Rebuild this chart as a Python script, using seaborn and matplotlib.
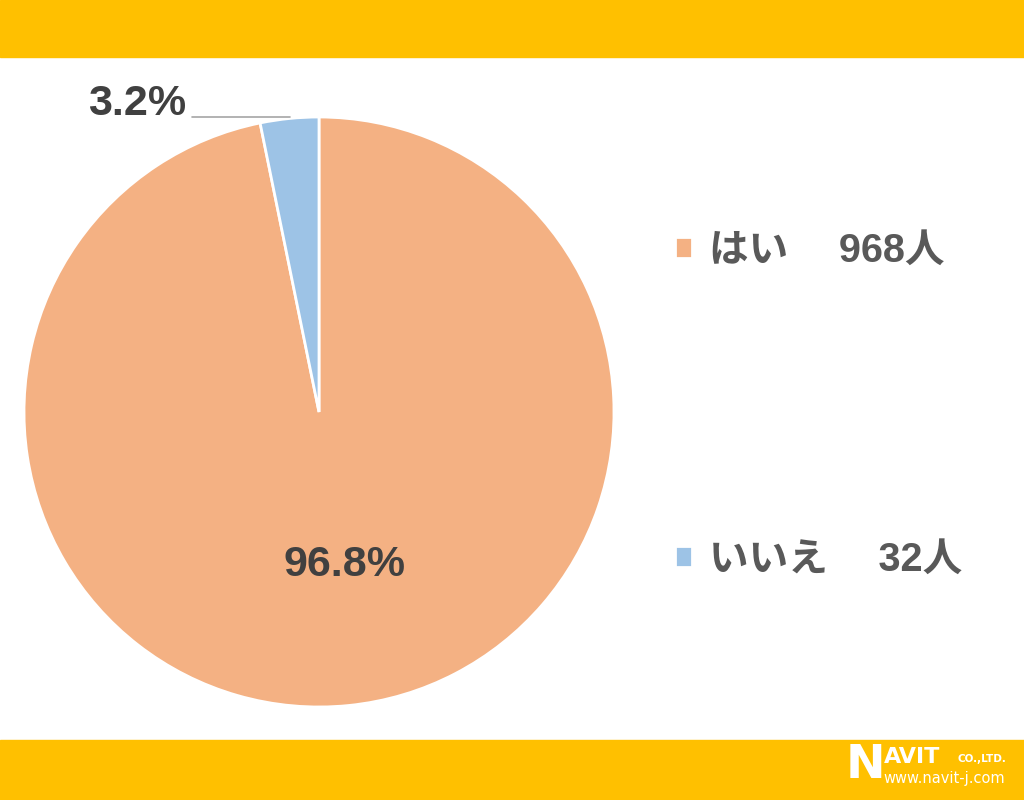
import numpy as np
import seaborn as sns
import matplotlib.pyplot as plt
from matplotlib.patches import Rectangle

# data
categories = ["はい", "いいえ"]
counts = [968, 32]
colors = ["#F4B183", "#9DC3E6"]

sns.set_theme(style="white")
plt.rcParams["font.family"] = ["Liberation Sans", "Noto Sans CJK JP", "DejaVu Sans"]

fig = plt.figure(figsize=(10.24, 8), dpi=100)
fig.patch.set_facecolor("white")

# yellow header / footer bars
fig.patches.append(Rectangle((0, 1 - 57 / 800), 1, 57 / 800, transform=fig.transFigure,
                             color="#FFC000", zorder=0))
fig.patches.append(Rectangle((0, 0), 1, 60 / 800, transform=fig.transFigure,
                             color="#FFC000", zorder=0))

# pie axes: center (319, 412) px, radius ~295 px
r_px = 295
ax = fig.add_axes([(319 - r_px) / 1024, 1 - (412 + r_px) / 800,
                   2 * r_px / 1024, 2 * r_px / 800])
wedges, texts, autotexts = ax.pie(
    counts,
    colors=colors,
    startangle=90,
    counterclock=False,
    autopct="%.1f%%",
    pctdistance=0.52,
    wedgeprops=dict(edgecolor="white", linewidth=2),
    textprops=dict(fontsize=31, fontweight="bold", color="#404040"),
)
ax.set_xlim(-1, 1)
ax.set_ylim(-1, 1)
ax.set_aspect("equal")
for w in wedges:
    w.set_clip_on(False)

# nudge big label a little right
x0, y0 = autotexts[0].get_position()
autotexts[0].set_position((x0 + 0.035, y0))

# move small slice label outside with leader line
autotexts[1].set_position((-0.615, 1.045))
autotexts[1].set_ha("center")
autotexts[1].set_va("center")
ax.plot([-0.43, -0.1], [1.0, 1.0], color="#A6A6A6", lw=1.2, clip_on=False)

# legend
labels = [f"{c}\u3000 {n}人" for c, n in zip(categories, counts)]
leg = fig.legend(
    wedges, labels,
    loc="center left",
    bbox_to_anchor=(675 / 1024, 1 - 405 / 800),
    frameon=False,
    fontsize=28.5,
    borderpad=0,
    borderaxespad=0,
    handlelength=0.42,
    handleheight=0.42,
    handletextpad=0.45,
    labelspacing=6.85,
)
for t in leg.get_texts():
    t.set_color("#595959")
    t.set_fontweight("bold")

# logo
fig.text(846 / 1024, 1 - 766 / 800, "N", color="white", fontsize=34, fontweight="bold",
         va="center", ha="left", family=["DejaVu Sans"])
fig.text(884 / 1024, 1 - 757 / 800, "AVIT", color="white", fontsize=16, fontweight="bold",
         va="center", ha="left", family=["DejaVu Sans"])
fig.text(958 / 1024, 1 - 759 / 800, "CO.,LTD.", color="white", fontsize=7.5, fontweight="bold",
         va="center", ha="left", family=["DejaVu Sans"])
fig.text(883 / 1024, 1 - 779 / 800, "www.navit-j.com", color="white", fontsize=10.5,
         va="center", ha="left", family=["DejaVu Sans"])

fig.savefig("out.png", dpi=100, facecolor=fig.get_facecolor())
